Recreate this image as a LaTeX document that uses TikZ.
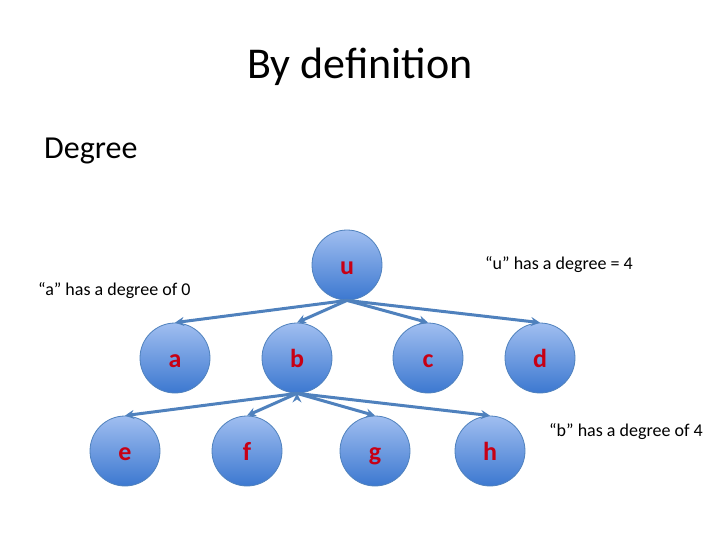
\documentclass[tikz,border=0pt]{standalone}
\usepackage{fontspec}
\setmainfont{Carlito}
\usetikzlibrary{arrows.meta}
\definecolor{rand}{RGB}{79,129,189}
\definecolor{hell}{RGB}{160,190,240}
\definecolor{dunkel}{RGB}{60,120,208}
\definecolor{rot}{RGB}{200,0,20}

\begin{document}
\begin{tikzpicture}[
    x=1pt, y=-1pt,
    vtx/.style = {circle, draw=rand, line width=0.8pt, minimum size=70pt,
      inner sep=0pt, top color=hell, bottom color=dunkel,
      text height=18pt, text depth=0pt,
      text=rot, font=\fontsize{26}{26}\selectfont\bfseries},
    pil/.style = {rand, line width=3pt, -{Stealth[length=9pt, width=9pt, inset=3pt]}},
    txt/.style = {font=\fontsize{18}{18}\selectfont, anchor=west, inner sep=0pt}
    ]
  \useasboundingbox (0,0) rectangle (720,540);

  \node[font=\fontsize{44}{44}\selectfont] (title) at (360,67) {By definition} ;
  \node[font=\fontsize{32}{32}\selectfont, anchor=west, inner sep=0pt] (degree) at (44,151) {Degree} ;

  \node[vtx] (u) at (347,265) {u} ;

  \node[vtx] (a) at (175,358) {a} ;
  \node[vtx] (b) at (297,358) {b} ;
  \node[vtx] (c) at (428,358) {c} ;
  \node[vtx] (d) at (540,358) {d} ;

  \node[vtx] (e) at (125,451) {e} ;
  \node[vtx] (f) at (247,451) {f} ;
  \node[vtx] (g) at (375,451) {g} ;
  \node[vtx] (h) at (490,451) {h} ;

  \node[txt] (ulabel) at (485,265) {“u” has a degree = 4} ;
  \node[txt] (alabel) at (38,291) {“a” has a degree of 0} ;
  \node[txt] (blabel) at (549,432) {“b” has a degree of 4} ;

  \draw[pil]
  (u.south) edge (a.north)
  (u.south) edge (b.north)
  (u.south) edge (c.north)
  (u.south) edge (d.north)

  (b.south) edge (e.north)
  (b.south) edge (f.north)
  (b.south) edge (g.north)
  (b.south) edge (h.north) ;

\end{tikzpicture}
\end{document}
